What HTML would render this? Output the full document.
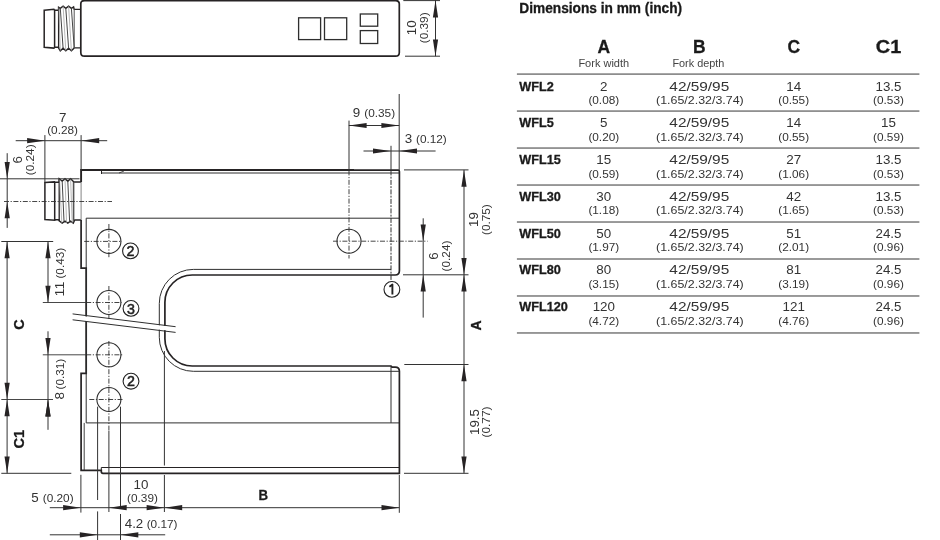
<!DOCTYPE html>
<html><head><meta charset="utf-8"><style>
html,body{margin:0;padding:0;background:#fff;width:940px;height:540px;overflow:hidden}
svg{display:block;font-family:"Liberation Sans",sans-serif;will-change:transform}
</style></head><body>
<svg width="940" height="540" viewBox="0 0 940 540">
<path d="M80.8,4 Q80.8,0.6 84.5,0.6 H395.5 Q399.3,0.6 399.3,4 V52.5 Q399.3,56.2 395.5,56.2 H84.5 Q80.8,56.2 80.8,52.5 Z" stroke="#262324" stroke-width="1.7" fill="none" />
<rect x="298.6" y="17.8" width="22.0" height="21.8" stroke="#2e2e2e" stroke-width="1.3" fill="none"/>
<rect x="324.5" y="17.8" width="22.2" height="21.8" stroke="#2e2e2e" stroke-width="1.3" fill="none"/>
<rect x="360.3" y="14" width="17.4" height="12.2" stroke="#2e2e2e" stroke-width="1.3" fill="none"/>
<rect x="360.3" y="30.6" width="17.4" height="12.9" stroke="#2e2e2e" stroke-width="1.3" fill="none"/>
<path d="M44.2,10.3 L53.9,9.3 L54.6,10.2 V47.5 L53.9,48.1 L44.2,47.2 Z" stroke="#262324" stroke-width="1.5" fill="none" />
<path d="M54.6,10.2 H58.6 M54.6,47.3 H58.6" stroke="#262324" stroke-width="1.4" fill="none" />
<path d="M58.6,10.2 V7.2 L60.3,8.3 L63.1,6.1 L65.8,8.3 L68.6,6.1 L71.4,8.3 L73.6,6.9 L74.2,9.4 H80.8" stroke="#262324" stroke-width="1.4" fill="none" />
<path d="M58.6,46.9 V48 L60.3,50.8 L63.1,48.3 L65.8,50.8 L68.6,48.3 L71.4,50.8 L74.2,47.9 H80.8" stroke="#262324" stroke-width="1.4" fill="none" />
<path d="M58.6,7.2 V48" stroke="#262324" stroke-width="1.3" fill="none" />
<path d="M74.2,9.4 V47.9" stroke="#555" stroke-width="1.0" fill="none" />
<path d="M60.3,8.3 L63.1,48.3 M65.8,8.3 L68.6,48.3 M71.4,8.3 L74.2,47.9" stroke="#444" stroke-width="1.0" fill="none" />
<path d="M63.1,6.1 L65.8,50.8 M68.6,6.1 L71.4,50.8 M58.9,7.5 L60.3,50.8" stroke="#999" stroke-width="0.7" fill="none" />
<line x1="403.3" y1="0.6" x2="440" y2="0.6" stroke="#333" stroke-width="1.0"/>
<line x1="405" y1="56.2" x2="440" y2="56.2" stroke="#333" stroke-width="1.0"/>
<line x1="435.5" y1="0" x2="435.5" y2="56.2" stroke="#333" stroke-width="1.0"/>
<polygon points="435.5,0.6 432.9,17.4 438.1,17.4" fill="#262324"/>
<polygon points="435.5,56.2 432.9,39.4 438.1,39.4" fill="#262324"/>
<text x="416.2" y="27.8" font-size="12.8" text-anchor="middle" font-weight="normal" fill="#333" transform="rotate(-90 416.2 27.8)" textLength="14.9" lengthAdjust="spacingAndGlyphs">10</text>
<text x="428.2" y="27.8" font-size="10.7" text-anchor="middle" font-weight="normal" fill="#333" transform="rotate(-90 428.2 27.8)" textLength="30.8" lengthAdjust="spacingAndGlyphs">(0.39)</text>
<path d="M81.1,182 V170 H354" stroke="#262324" stroke-width="1.9" fill="none" />
<path d="M354,170.2 H398.4 Q399.4,170.4 399.4,171.6 V270.8 Q399.4,275 395.2,275 H192.2 A27.3,27.3 0 0 0 164.9,302.3 V338.7 A27.3,27.3 0 0 0 192.2,366 H391 L392,367.1 H395.2 Q399.4,367.1 399.4,371.3 V473.3 H103 Q101.3,473.3 101.3,471.5 V470.3 H81.1 V373.3 H86.2 V268.2 H81.1 V220" stroke="#262324" stroke-width="1.7" fill="none" />
<path d="M101.3,467.5 H399.4" stroke="#262324" stroke-width="1.1" fill="none" />
<path d="M101.3,467.5 V471" stroke="#262324" stroke-width="1.0" fill="none" />
<path d="M101.5,173 H399.4" stroke="#2e2e2e" stroke-width="1.0" fill="none" />
<path d="M101.5,170.4 V174" stroke="#262324" stroke-width="1.0" fill="none" />
<path d="M119,173 L124,171" stroke="#2e2e2e" stroke-width="0.8" fill="none" />
<path d="M86.2,218.2 H399.4 M86.2,218.2 V422.9 M86.2,422.9 H399.4" stroke="#2e2e2e" stroke-width="1.0" fill="none" />
<path d="M84.2,422.9 V470.3" stroke="#2e2e2e" stroke-width="0.9" fill="none" />
<path d="M391,269.4 H193.3 A34,34 0 0 0 159.3,303.4 V337.3 A34,34 0 0 0 193.3,371.3 H399.4" stroke="#2e2e2e" stroke-width="1.0" fill="none" />
<path d="M391,366.3 V422.9" stroke="#2e2e2e" stroke-width="1.0" fill="none" />
<line x1="349" y1="120.6" x2="349" y2="170.4" stroke="#333" stroke-width="1.0"/>
<line x1="391" y1="145.8" x2="391" y2="170.4" stroke="#333" stroke-width="1.0"/>
<line x1="391" y1="170.4" x2="391" y2="281.5" stroke="#2e2e2e" stroke-width="1.0" stroke-dasharray="5 1.3 1.9 1.3"/>
<circle cx="108.9" cy="241.4" r="12" stroke="#2e2e2e" stroke-width="1.1" fill="none"/>
<circle cx="108.9" cy="302.5" r="12" stroke="#2e2e2e" stroke-width="1.1" fill="none"/>
<circle cx="108.9" cy="354.8" r="12" stroke="#2e2e2e" stroke-width="1.1" fill="none"/>
<circle cx="108.9" cy="399.5" r="12" stroke="#2e2e2e" stroke-width="1.1" fill="none"/>
<circle cx="349" cy="241.2" r="12" stroke="#2e2e2e" stroke-width="1.1" fill="none"/>
<line x1="84.2" y1="241.4" x2="122" y2="241.4" stroke="#2e2e2e" stroke-width="0.9" stroke-dasharray="5 1.6 1.2 1.6"/>
<line x1="108.9" y1="224" x2="108.9" y2="258.4" stroke="#2e2e2e" stroke-width="0.9" stroke-dasharray="5 1.6 1.2 1.6"/>
<line x1="86.2" y1="302.5" x2="121.5" y2="302.5" stroke="#2e2e2e" stroke-width="0.9" stroke-dasharray="5 1.6 1.2 1.6"/>
<line x1="108.9" y1="286" x2="108.9" y2="319.4" stroke="#2e2e2e" stroke-width="0.9" stroke-dasharray="5 1.6 1.2 1.6"/>
<line x1="86.2" y1="354.8" x2="123.5" y2="354.8" stroke="#2e2e2e" stroke-width="0.9" stroke-dasharray="5 1.6 1.2 1.6"/>
<line x1="108.9" y1="341" x2="108.9" y2="431" stroke="#2e2e2e" stroke-width="0.9" stroke-dasharray="5 1.6 1.2 1.6"/>
<line x1="89.3" y1="399.5" x2="123.5" y2="399.5" stroke="#2e2e2e" stroke-width="0.9" stroke-dasharray="5 1.6 1.2 1.6"/>
<line x1="349" y1="170.4" x2="349" y2="258.5" stroke="#2e2e2e" stroke-width="0.9" stroke-dasharray="5 1.6 1.2 1.6"/>
<circle cx="130.5" cy="250.9" r="7.9" stroke="#222" stroke-width="1.1" fill="none"/>
<text x="130.5" y="256.0" font-size="14.2" text-anchor="middle" font-weight="normal" fill="#222" stroke="#222" stroke-width="0.55">2</text>
<circle cx="131" cy="308.4" r="7.9" stroke="#222" stroke-width="1.1" fill="none"/>
<text x="131" y="313.5" font-size="14.2" text-anchor="middle" font-weight="normal" fill="#222" stroke="#222" stroke-width="0.55">3</text>
<circle cx="131" cy="381.2" r="7.9" stroke="#222" stroke-width="1.1" fill="none"/>
<text x="131" y="386.3" font-size="14.2" text-anchor="middle" font-weight="normal" fill="#222" stroke="#222" stroke-width="0.55">2</text>
<circle cx="391.9" cy="289.4" r="7.9" stroke="#222" stroke-width="1.1" fill="none"/>
<path d="M389.4,286.8 L392.4,284.6 V294.4" stroke="#222" stroke-width="1.9" fill="none" stroke-linejoin="round"/>
<polygon points="70,314.4 178,327.6 178,331.7 70,319.3" fill="#fff"/>
<path d="M72.6,313.9 L175.6,326.7 M72.6,319.8 L175.6,332.4" stroke="#2e2e2e" stroke-width="1.0" fill="none" />
<path d="M44.9,182.6 L54.4,181.9 L54.7,182.3 V220.3 L44.9,219.5 Z" stroke="#262324" stroke-width="1.5" fill="none" />
<path d="M54.7,182.3 H59.2 M54.7,219.7 H59.2" stroke="#262324" stroke-width="1.4" fill="none" />
<path d="M59.2,182.3 V178.7 L62.2,181.2 L65,178.7 L67.8,181.2 L70.6,178.7 L73.9,182 H81.1" stroke="#262324" stroke-width="1.4" fill="none" />
<path d="M59.2,219.5 V220.9 L62.2,223.1 L65,221.2 L67.8,223.1 L70.6,221.2 L73.3,223.1 L74.7,220 H81.1" stroke="#262324" stroke-width="1.4" fill="none" />
<path d="M59.2,178.7 V220.9" stroke="#262324" stroke-width="1.3" fill="none" />
<path d="M73.9,182 V220" stroke="#555" stroke-width="1.0" fill="none" />
<path d="M62.2,181.2 L64,221.2 M67.8,181.2 L69.6,221.2 M73.3,182 L73.3,221" stroke="#444" stroke-width="1.0" fill="none" />
<path d="M65,178.7 L66.6,223 M70.6,178.7 L72.2,223 M59.6,179.5 L61.8,223" stroke="#999" stroke-width="0.7" fill="none" />
<path d="M81.1,182 V220" stroke="#777" stroke-width="0.9" fill="none" />
<line x1="4" y1="201.5" x2="112" y2="201.5" stroke="#333" stroke-width="0.9" stroke-dasharray="5 1.6 1.2 1.6"/>
<line x1="15.7" y1="140.7" x2="107.2" y2="140.7" stroke="#333" stroke-width="1.0"/>
<polygon points="44.9,140.7 27.1,138.1 27.1,143.3" fill="#262324"/>
<polygon points="81.4,140.7 99.2,138.1 99.2,143.3" fill="#262324"/>
<line x1="44.9" y1="135.1" x2="44.9" y2="183" stroke="#333" stroke-width="1.0"/>
<line x1="81.1" y1="135.1" x2="81.1" y2="170.4" stroke="#333" stroke-width="1.0"/>
<text x="62.8" y="121.9" font-size="12.8" text-anchor="middle" font-weight="normal" fill="#333" textLength="7.45" lengthAdjust="spacingAndGlyphs">7</text>
<text x="62.6" y="134" font-size="10.7" text-anchor="middle" font-weight="normal" fill="#333" textLength="30.8" lengthAdjust="spacingAndGlyphs">(0.28)</text>
<line x1="7.2" y1="153.2" x2="7.2" y2="227.9" stroke="#333" stroke-width="1.0"/>
<polygon points="7.2,178.8 4.6,162.0 9.8,162.0" fill="#262324"/>
<polygon points="7.2,201.5 4.6,218.3 9.8,218.3" fill="#262324"/>
<line x1="0" y1="178.8" x2="79.5" y2="178.8" stroke="#333" stroke-width="1.0"/>
<text x="21.7" y="159.8" font-size="12.8" text-anchor="middle" font-weight="normal" fill="#333" transform="rotate(-90 21.7 159.8)" textLength="7.45" lengthAdjust="spacingAndGlyphs">6</text>
<text x="33.6" y="159.8" font-size="10.7" text-anchor="middle" font-weight="normal" fill="#333" transform="rotate(-90 33.6 159.8)" textLength="30.8" lengthAdjust="spacingAndGlyphs">(0.24)</text>
<line x1="348.8" y1="125.5" x2="399.2" y2="125.5" stroke="#333" stroke-width="1.0"/>
<polygon points="348.8,125.5 366.6,122.9 366.6,128.1" fill="#262324"/>
<polygon points="399.2,125.5 381.4,122.9 381.4,128.1" fill="#262324"/>
<line x1="399.2" y1="94" x2="399.2" y2="170.4" stroke="#333" stroke-width="1.0"/>
<text x="356.5" y="117.2" font-size="12.8" text-anchor="middle" font-weight="normal" fill="#333" textLength="7.45" lengthAdjust="spacingAndGlyphs">9</text>
<text x="364.3" y="117.2" font-size="10.7" text-anchor="start" font-weight="normal" fill="#333" textLength="30.8" lengthAdjust="spacingAndGlyphs">(0.35)</text>
<line x1="363.5" y1="151" x2="435.6" y2="151" stroke="#333" stroke-width="1.0"/>
<polygon points="390.8,151.0 373.0,148.4 373.0,153.6" fill="#262324"/>
<polygon points="399.2,151.0 417.0,148.4 417.0,153.6" fill="#262324"/>
<text x="408.4" y="143" font-size="12.8" text-anchor="middle" font-weight="normal" fill="#333" textLength="7.45" lengthAdjust="spacingAndGlyphs">3</text>
<text x="416" y="143" font-size="10.7" text-anchor="start" font-weight="normal" fill="#333" textLength="30.8" lengthAdjust="spacingAndGlyphs">(0.12)</text>
<line x1="404" y1="169.9" x2="468.5" y2="169.9" stroke="#333" stroke-width="1.0"/>
<line x1="403" y1="274.8" x2="468.5" y2="274.8" stroke="#333" stroke-width="1.0"/>
<line x1="404.3" y1="364.5" x2="468.5" y2="364.5" stroke="#333" stroke-width="1.0"/>
<line x1="404" y1="473.3" x2="468.5" y2="473.3" stroke="#333" stroke-width="1.0"/>
<line x1="464" y1="169.9" x2="464" y2="473.3" stroke="#333" stroke-width="1.0"/>
<polygon points="464.0,169.9 461.4,186.7 466.6,186.7" fill="#262324"/>
<polygon points="464.0,274.8 461.4,258.0 466.6,258.0" fill="#262324"/>
<polygon points="464.0,274.8 461.4,291.6 466.6,291.6" fill="#262324"/>
<polygon points="464.0,364.5 461.4,381.3 466.6,381.3" fill="#262324"/>
<polygon points="464.0,473.3 461.4,456.5 466.6,456.5" fill="#262324"/>
<text x="478.5" y="219.6" font-size="12.8" text-anchor="middle" font-weight="normal" fill="#333" transform="rotate(-90 478.5 219.6)" textLength="14.9" lengthAdjust="spacingAndGlyphs">19</text>
<text x="490.3" y="219.6" font-size="10.7" text-anchor="middle" font-weight="normal" fill="#333" transform="rotate(-90 490.3 219.6)" textLength="30.8" lengthAdjust="spacingAndGlyphs">(0.75)</text>
<text x="481.3" y="325.5" font-size="14.5" text-anchor="middle" font-weight="bold" fill="#1a1a1a" transform="rotate(-90 481.3 325.5)" textLength="10.2" lengthAdjust="spacingAndGlyphs" stroke="#1a1a1a" stroke-width="0.3">A</text>
<text x="478.5" y="422" font-size="12.8" text-anchor="middle" font-weight="normal" fill="#333" transform="rotate(-90 478.5 422)" textLength="25.95" lengthAdjust="spacingAndGlyphs">19.5</text>
<text x="490.3" y="422" font-size="10.7" text-anchor="middle" font-weight="normal" fill="#333" transform="rotate(-90 490.3 422)" textLength="30.8" lengthAdjust="spacingAndGlyphs">(0.77)</text>
<line x1="427.6" y1="241.2" x2="427.6" y2="241.2" stroke="#333" stroke-width="1.0"/>
<line x1="423.2" y1="218.3" x2="423.2" y2="317.6" stroke="#333" stroke-width="1.0"/>
<polygon points="423.2,241.2 420.6,224.4 425.8,224.4" fill="#262324"/>
<polygon points="423.2,274.8 420.6,291.6 425.8,291.6" fill="#262324"/>
<text x="437.6" y="256" font-size="12.8" text-anchor="middle" font-weight="normal" fill="#333" transform="rotate(-90 437.6 256)" textLength="7.45" lengthAdjust="spacingAndGlyphs">6</text>
<text x="450" y="256" font-size="10.7" text-anchor="middle" font-weight="normal" fill="#333" transform="rotate(-90 450 256)" textLength="30.8" lengthAdjust="spacingAndGlyphs">(0.24)</text>
<line x1="333" y1="241.2" x2="427.6" y2="241.2" stroke="#333" stroke-width="0.9" stroke-dasharray="5 1.6 1.2 1.6"/>
<line x1="1.3" y1="241.5" x2="53.2" y2="241.5" stroke="#333" stroke-width="1.0"/>
<line x1="42.8" y1="302.5" x2="86.2" y2="302.5" stroke="#333" stroke-width="0.9"/>
<line x1="42.8" y1="354.8" x2="86.2" y2="354.8" stroke="#333" stroke-width="0.9"/>
<line x1="1.3" y1="399.5" x2="53" y2="399.5" stroke="#333" stroke-width="0.9"/>
<line x1="1.3" y1="473.3" x2="71.3" y2="473.3" stroke="#333" stroke-width="1.0"/>
<line x1="7.1" y1="241.5" x2="7.1" y2="473.3" stroke="#333" stroke-width="1.0"/>
<polygon points="7.1,241.5 4.5,258.3 9.7,258.3" fill="#262324"/>
<polygon points="7.1,399.5 4.5,382.7 9.7,382.7" fill="#262324"/>
<polygon points="7.1,399.5 4.5,416.3 9.7,416.3" fill="#262324"/>
<polygon points="7.1,473.3 4.5,456.5 9.7,456.5" fill="#262324"/>
<text x="24.0" y="324.5" font-size="15" text-anchor="middle" font-weight="bold" fill="#1a1a1a" transform="rotate(-90 24.0 324.5)" textLength="10.4" lengthAdjust="spacingAndGlyphs" stroke="#1a1a1a" stroke-width="0.3">C</text>
<text x="23.8" y="439.3" font-size="14.8" text-anchor="middle" font-weight="bold" fill="#1a1a1a" transform="rotate(-90 23.8 439.3)" textLength="18.6" lengthAdjust="spacingAndGlyphs" stroke="#1a1a1a" stroke-width="0.3">C1</text>
<line x1="48" y1="241.5" x2="48" y2="302.5" stroke="#333" stroke-width="1.0"/>
<polygon points="48.0,241.5 45.4,258.3 50.6,258.3" fill="#262324"/>
<polygon points="48.0,302.5 45.4,285.7 50.6,285.7" fill="#262324"/>
<text x="63.8" y="296.5" font-size="12.3" text-anchor="start" font-weight="normal" fill="#333" transform="rotate(-90 63.8 296.5)" textLength="14.9" lengthAdjust="spacingAndGlyphs">11</text>
<text x="63.8" y="278.6" font-size="10.3" text-anchor="start" font-weight="normal" fill="#333" transform="rotate(-90 63.8 278.6)" textLength="30.8" lengthAdjust="spacingAndGlyphs">(0.43)</text>
<line x1="48" y1="331.3" x2="48" y2="429.8" stroke="#333" stroke-width="1.0"/>
<polygon points="48.0,354.8 45.4,338.0 50.6,338.0" fill="#262324"/>
<polygon points="48.0,399.6 45.4,416.4 50.6,416.4" fill="#262324"/>
<text x="63.8" y="399.5" font-size="12.3" text-anchor="start" font-weight="normal" fill="#333" transform="rotate(-90 63.8 399.5)" textLength="7.45" lengthAdjust="spacingAndGlyphs">8</text>
<text x="63.8" y="389.5" font-size="10.3" text-anchor="start" font-weight="normal" fill="#333" transform="rotate(-90 63.8 389.5)" textLength="30.8" lengthAdjust="spacingAndGlyphs">(0.31)</text>
<polygon points="48.0,399.6 45.4,416.4 50.6,416.4" fill="#262324"/>
<line x1="80.9" y1="474.8" x2="80.9" y2="512.6" stroke="#333" stroke-width="1.0"/>
<line x1="108.9" y1="431" x2="108.9" y2="512" stroke="#333" stroke-width="1.0"/>
<line x1="164.4" y1="351" x2="164.4" y2="465.5" stroke="#333" stroke-width="1.0"/>
<line x1="164.4" y1="475" x2="164.4" y2="512" stroke="#333" stroke-width="1.0"/>
<line x1="399.3" y1="475" x2="399.3" y2="512.8" stroke="#333" stroke-width="1.0"/>
<line x1="97.6" y1="406.7" x2="97.6" y2="500" stroke="#333" stroke-width="1.0"/>
<line x1="97.6" y1="511.4" x2="97.6" y2="540" stroke="#333" stroke-width="1.0"/>
<line x1="120.5" y1="406.7" x2="120.5" y2="507.7" stroke="#333" stroke-width="1.0"/>
<line x1="120.5" y1="514" x2="120.5" y2="540" stroke="#333" stroke-width="1.0"/>
<line x1="49.8" y1="507.7" x2="399.3" y2="507.7" stroke="#333" stroke-width="1.0"/>
<polygon points="80.9,507.7 63.1,505.1 63.1,510.3" fill="#262324"/>
<polygon points="108.9,507.7 126.7,505.1 126.7,510.3" fill="#262324"/>
<polygon points="164.4,507.7 146.6,505.1 146.6,510.3" fill="#262324"/>
<polygon points="164.4,507.7 182.2,505.1 182.2,510.3" fill="#262324"/>
<polygon points="399.3,507.7 381.5,505.1 381.5,510.3" fill="#262324"/>
<text x="35" y="501.5" font-size="12.8" text-anchor="middle" font-weight="normal" fill="#333" textLength="7.45" lengthAdjust="spacingAndGlyphs">5</text>
<text x="42.8" y="501.5" font-size="10.7" text-anchor="start" font-weight="normal" fill="#333" textLength="30.8" lengthAdjust="spacingAndGlyphs">(0.20)</text>
<text x="141" y="489.3" font-size="12.8" text-anchor="middle" font-weight="normal" fill="#333" textLength="14.9" lengthAdjust="spacingAndGlyphs">10</text>
<text x="142.5" y="501.5" font-size="10.7" text-anchor="middle" font-weight="normal" fill="#333" textLength="30.8" lengthAdjust="spacingAndGlyphs">(0.39)</text>
<text x="263.2" y="500.2" font-size="14.5" text-anchor="middle" font-weight="bold" fill="#1a1a1a" textLength="9.6" lengthAdjust="spacingAndGlyphs" stroke="#1a1a1a" stroke-width="0.3">B</text>
<line x1="49.8" y1="534.8" x2="165.2" y2="534.8" stroke="#333" stroke-width="1.0"/>
<polygon points="97.6,534.8 79.8,532.2 79.8,537.4" fill="#262324"/>
<polygon points="120.5,534.8 138.3,532.2 138.3,537.4" fill="#262324"/>
<text x="134" y="528" font-size="12.8" text-anchor="middle" font-weight="normal" fill="#333" textLength="18.5" lengthAdjust="spacingAndGlyphs">4.2</text>
<text x="146.7" y="528" font-size="10.7" text-anchor="start" font-weight="normal" fill="#333" textLength="30.8" lengthAdjust="spacingAndGlyphs">(0.17)</text>
<text x="519.3" y="13.1" font-size="13.8" text-anchor="start" font-weight="bold" fill="#1a1a1a" textLength="162.8" lengthAdjust="spacingAndGlyphs" stroke="#1a1a1a" stroke-width="0.3">Dimensions in mm (inch)</text>
<text x="603.8" y="53.4" font-size="18.5" text-anchor="middle" font-weight="bold" fill="#1a1a1a" textLength="12.6" lengthAdjust="spacingAndGlyphs" stroke="#1a1a1a" stroke-width="0.3">A</text>
<text x="699.3" y="53.4" font-size="18.5" text-anchor="middle" font-weight="bold" fill="#1a1a1a" textLength="12.6" lengthAdjust="spacingAndGlyphs" stroke="#1a1a1a" stroke-width="0.3">B</text>
<text x="793.7" y="53.4" font-size="18.5" text-anchor="middle" font-weight="bold" fill="#1a1a1a" textLength="12.6" lengthAdjust="spacingAndGlyphs" stroke="#1a1a1a" stroke-width="0.3">C</text>
<text x="888.5" y="53.4" font-size="18.5" text-anchor="middle" font-weight="bold" fill="#1a1a1a" textLength="25.4" lengthAdjust="spacingAndGlyphs" stroke="#1a1a1a" stroke-width="0.3">C1</text>
<text x="603.8" y="67.4" font-size="10.5" text-anchor="middle" font-weight="normal" fill="#444" textLength="50.8" lengthAdjust="spacingAndGlyphs">Fork width</text>
<text x="698.4" y="67.4" font-size="10.5" text-anchor="middle" font-weight="normal" fill="#444" textLength="52" lengthAdjust="spacingAndGlyphs">Fork depth</text>
<rect x="516.9" y="73.35" width="402.5" height="1.5" fill="#7a7a7a"/>
<text x="519.3" y="90.7" font-size="12.2" text-anchor="start" font-weight="bold" fill="#1a1a1a" textLength="34.53" lengthAdjust="spacingAndGlyphs" stroke="#1a1a1a" stroke-width="0.3">WFL2</text>
<text x="603.8" y="90.7" font-size="12.8" text-anchor="middle" font-weight="normal" fill="#333" textLength="7.45" lengthAdjust="spacingAndGlyphs">2</text>
<text x="603.8" y="103.9" font-size="10.7" text-anchor="middle" font-weight="normal" fill="#333" textLength="30.8" lengthAdjust="spacingAndGlyphs">(0.08)</text>
<text x="699.3" y="90.7" font-size="12.8" text-anchor="middle" font-weight="normal" fill="#333" textLength="59.9" lengthAdjust="spacingAndGlyphs">42/59/95</text>
<text x="699.9" y="103.9" font-size="10.7" text-anchor="middle" font-weight="normal" fill="#333" textLength="87.6" lengthAdjust="spacingAndGlyphs">(1.65/2.32/3.74)</text>
<text x="793.7" y="90.7" font-size="12.8" text-anchor="middle" font-weight="normal" fill="#333" textLength="14.9" lengthAdjust="spacingAndGlyphs">14</text>
<text x="793.7" y="103.9" font-size="10.7" text-anchor="middle" font-weight="normal" fill="#333" textLength="30.8" lengthAdjust="spacingAndGlyphs">(0.55)</text>
<text x="888.5" y="90.7" font-size="12.8" text-anchor="middle" font-weight="normal" fill="#333" textLength="25.95" lengthAdjust="spacingAndGlyphs">13.5</text>
<text x="888.5" y="103.9" font-size="10.7" text-anchor="middle" font-weight="normal" fill="#333" textLength="30.8" lengthAdjust="spacingAndGlyphs">(0.53)</text>
<rect x="516.9" y="110.33" width="402.5" height="1.5" fill="#7a7a7a"/>
<text x="519.3" y="127.45" font-size="12.2" text-anchor="start" font-weight="bold" fill="#1a1a1a" textLength="34.53" lengthAdjust="spacingAndGlyphs" stroke="#1a1a1a" stroke-width="0.3">WFL5</text>
<text x="603.8" y="127.45" font-size="12.8" text-anchor="middle" font-weight="normal" fill="#333" textLength="7.45" lengthAdjust="spacingAndGlyphs">5</text>
<text x="603.8" y="140.75" font-size="10.7" text-anchor="middle" font-weight="normal" fill="#333" textLength="30.8" lengthAdjust="spacingAndGlyphs">(0.20)</text>
<text x="699.3" y="127.45" font-size="12.8" text-anchor="middle" font-weight="normal" fill="#333" textLength="59.9" lengthAdjust="spacingAndGlyphs">42/59/95</text>
<text x="699.9" y="140.75" font-size="10.7" text-anchor="middle" font-weight="normal" fill="#333" textLength="87.6" lengthAdjust="spacingAndGlyphs">(1.65/2.32/3.74)</text>
<text x="793.7" y="127.45" font-size="12.8" text-anchor="middle" font-weight="normal" fill="#333" textLength="14.9" lengthAdjust="spacingAndGlyphs">14</text>
<text x="793.7" y="140.75" font-size="10.7" text-anchor="middle" font-weight="normal" fill="#333" textLength="30.8" lengthAdjust="spacingAndGlyphs">(0.55)</text>
<text x="888.5" y="127.45" font-size="12.8" text-anchor="middle" font-weight="normal" fill="#333" textLength="14.9" lengthAdjust="spacingAndGlyphs">15</text>
<text x="888.5" y="140.75" font-size="10.7" text-anchor="middle" font-weight="normal" fill="#333" textLength="30.8" lengthAdjust="spacingAndGlyphs">(0.59)</text>
<rect x="516.9" y="147.31" width="402.5" height="1.5" fill="#7a7a7a"/>
<text x="519.3" y="164.2" font-size="12.2" text-anchor="start" font-weight="bold" fill="#1a1a1a" textLength="41.59" lengthAdjust="spacingAndGlyphs" stroke="#1a1a1a" stroke-width="0.3">WFL15</text>
<text x="603.8" y="164.2" font-size="12.8" text-anchor="middle" font-weight="normal" fill="#333" textLength="14.9" lengthAdjust="spacingAndGlyphs">15</text>
<text x="603.8" y="177.60000000000002" font-size="10.7" text-anchor="middle" font-weight="normal" fill="#333" textLength="30.8" lengthAdjust="spacingAndGlyphs">(0.59)</text>
<text x="699.3" y="164.2" font-size="12.8" text-anchor="middle" font-weight="normal" fill="#333" textLength="59.9" lengthAdjust="spacingAndGlyphs">42/59/95</text>
<text x="699.9" y="177.60000000000002" font-size="10.7" text-anchor="middle" font-weight="normal" fill="#333" textLength="87.6" lengthAdjust="spacingAndGlyphs">(1.65/2.32/3.74)</text>
<text x="793.7" y="164.2" font-size="12.8" text-anchor="middle" font-weight="normal" fill="#333" textLength="14.9" lengthAdjust="spacingAndGlyphs">27</text>
<text x="793.7" y="177.60000000000002" font-size="10.7" text-anchor="middle" font-weight="normal" fill="#333" textLength="30.8" lengthAdjust="spacingAndGlyphs">(1.06)</text>
<text x="888.5" y="164.2" font-size="12.8" text-anchor="middle" font-weight="normal" fill="#333" textLength="25.95" lengthAdjust="spacingAndGlyphs">13.5</text>
<text x="888.5" y="177.60000000000002" font-size="10.7" text-anchor="middle" font-weight="normal" fill="#333" textLength="30.8" lengthAdjust="spacingAndGlyphs">(0.53)</text>
<rect x="516.9" y="184.29" width="402.5" height="1.5" fill="#7a7a7a"/>
<text x="519.3" y="200.95" font-size="12.2" text-anchor="start" font-weight="bold" fill="#1a1a1a" textLength="41.59" lengthAdjust="spacingAndGlyphs" stroke="#1a1a1a" stroke-width="0.3">WFL30</text>
<text x="603.8" y="200.95" font-size="12.8" text-anchor="middle" font-weight="normal" fill="#333" textLength="14.9" lengthAdjust="spacingAndGlyphs">30</text>
<text x="603.8" y="214.45000000000002" font-size="10.7" text-anchor="middle" font-weight="normal" fill="#333" textLength="30.8" lengthAdjust="spacingAndGlyphs">(1.18)</text>
<text x="699.3" y="200.95" font-size="12.8" text-anchor="middle" font-weight="normal" fill="#333" textLength="59.9" lengthAdjust="spacingAndGlyphs">42/59/95</text>
<text x="699.9" y="214.45000000000002" font-size="10.7" text-anchor="middle" font-weight="normal" fill="#333" textLength="87.6" lengthAdjust="spacingAndGlyphs">(1.65/2.32/3.74)</text>
<text x="793.7" y="200.95" font-size="12.8" text-anchor="middle" font-weight="normal" fill="#333" textLength="14.9" lengthAdjust="spacingAndGlyphs">42</text>
<text x="793.7" y="214.45000000000002" font-size="10.7" text-anchor="middle" font-weight="normal" fill="#333" textLength="30.8" lengthAdjust="spacingAndGlyphs">(1.65)</text>
<text x="888.5" y="200.95" font-size="12.8" text-anchor="middle" font-weight="normal" fill="#333" textLength="25.95" lengthAdjust="spacingAndGlyphs">13.5</text>
<text x="888.5" y="214.45000000000002" font-size="10.7" text-anchor="middle" font-weight="normal" fill="#333" textLength="30.8" lengthAdjust="spacingAndGlyphs">(0.53)</text>
<rect x="516.9" y="221.27" width="402.5" height="1.5" fill="#7a7a7a"/>
<text x="519.3" y="237.7" font-size="12.2" text-anchor="start" font-weight="bold" fill="#1a1a1a" textLength="41.59" lengthAdjust="spacingAndGlyphs" stroke="#1a1a1a" stroke-width="0.3">WFL50</text>
<text x="603.8" y="237.7" font-size="12.8" text-anchor="middle" font-weight="normal" fill="#333" textLength="14.9" lengthAdjust="spacingAndGlyphs">50</text>
<text x="603.8" y="251.3" font-size="10.7" text-anchor="middle" font-weight="normal" fill="#333" textLength="30.8" lengthAdjust="spacingAndGlyphs">(1.97)</text>
<text x="699.3" y="237.7" font-size="12.8" text-anchor="middle" font-weight="normal" fill="#333" textLength="59.9" lengthAdjust="spacingAndGlyphs">42/59/95</text>
<text x="699.9" y="251.3" font-size="10.7" text-anchor="middle" font-weight="normal" fill="#333" textLength="87.6" lengthAdjust="spacingAndGlyphs">(1.65/2.32/3.74)</text>
<text x="793.7" y="237.7" font-size="12.8" text-anchor="middle" font-weight="normal" fill="#333" textLength="14.9" lengthAdjust="spacingAndGlyphs">51</text>
<text x="793.7" y="251.3" font-size="10.7" text-anchor="middle" font-weight="normal" fill="#333" textLength="30.8" lengthAdjust="spacingAndGlyphs">(2.01)</text>
<text x="888.5" y="237.7" font-size="12.8" text-anchor="middle" font-weight="normal" fill="#333" textLength="25.95" lengthAdjust="spacingAndGlyphs">24.5</text>
<text x="888.5" y="251.3" font-size="10.7" text-anchor="middle" font-weight="normal" fill="#333" textLength="30.8" lengthAdjust="spacingAndGlyphs">(0.96)</text>
<rect x="516.9" y="258.25" width="402.5" height="1.5" fill="#7a7a7a"/>
<text x="519.3" y="274.45" font-size="12.2" text-anchor="start" font-weight="bold" fill="#1a1a1a" textLength="41.59" lengthAdjust="spacingAndGlyphs" stroke="#1a1a1a" stroke-width="0.3">WFL80</text>
<text x="603.8" y="274.45" font-size="12.8" text-anchor="middle" font-weight="normal" fill="#333" textLength="14.9" lengthAdjust="spacingAndGlyphs">80</text>
<text x="603.8" y="288.15" font-size="10.7" text-anchor="middle" font-weight="normal" fill="#333" textLength="30.8" lengthAdjust="spacingAndGlyphs">(3.15)</text>
<text x="699.3" y="274.45" font-size="12.8" text-anchor="middle" font-weight="normal" fill="#333" textLength="59.9" lengthAdjust="spacingAndGlyphs">42/59/95</text>
<text x="699.9" y="288.15" font-size="10.7" text-anchor="middle" font-weight="normal" fill="#333" textLength="87.6" lengthAdjust="spacingAndGlyphs">(1.65/2.32/3.74)</text>
<text x="793.7" y="274.45" font-size="12.8" text-anchor="middle" font-weight="normal" fill="#333" textLength="14.9" lengthAdjust="spacingAndGlyphs">81</text>
<text x="793.7" y="288.15" font-size="10.7" text-anchor="middle" font-weight="normal" fill="#333" textLength="30.8" lengthAdjust="spacingAndGlyphs">(3.19)</text>
<text x="888.5" y="274.45" font-size="12.8" text-anchor="middle" font-weight="normal" fill="#333" textLength="25.95" lengthAdjust="spacingAndGlyphs">24.5</text>
<text x="888.5" y="288.15" font-size="10.7" text-anchor="middle" font-weight="normal" fill="#333" textLength="30.8" lengthAdjust="spacingAndGlyphs">(0.96)</text>
<rect x="516.9" y="295.23" width="402.5" height="1.5" fill="#7a7a7a"/>
<text x="519.3" y="311.2" font-size="12.2" text-anchor="start" font-weight="bold" fill="#1a1a1a" textLength="48.64" lengthAdjust="spacingAndGlyphs" stroke="#1a1a1a" stroke-width="0.3">WFL120</text>
<text x="603.8" y="311.2" font-size="12.8" text-anchor="middle" font-weight="normal" fill="#333" textLength="22.35" lengthAdjust="spacingAndGlyphs">120</text>
<text x="603.8" y="325.0" font-size="10.7" text-anchor="middle" font-weight="normal" fill="#333" textLength="30.8" lengthAdjust="spacingAndGlyphs">(4.72)</text>
<text x="699.3" y="311.2" font-size="12.8" text-anchor="middle" font-weight="normal" fill="#333" textLength="59.9" lengthAdjust="spacingAndGlyphs">42/59/95</text>
<text x="699.9" y="325.0" font-size="10.7" text-anchor="middle" font-weight="normal" fill="#333" textLength="87.6" lengthAdjust="spacingAndGlyphs">(1.65/2.32/3.74)</text>
<text x="793.7" y="311.2" font-size="12.8" text-anchor="middle" font-weight="normal" fill="#333" textLength="22.35" lengthAdjust="spacingAndGlyphs">121</text>
<text x="793.7" y="325.0" font-size="10.7" text-anchor="middle" font-weight="normal" fill="#333" textLength="30.8" lengthAdjust="spacingAndGlyphs">(4.76)</text>
<text x="888.5" y="311.2" font-size="12.8" text-anchor="middle" font-weight="normal" fill="#333" textLength="25.95" lengthAdjust="spacingAndGlyphs">24.5</text>
<text x="888.5" y="325.0" font-size="10.7" text-anchor="middle" font-weight="normal" fill="#333" textLength="30.8" lengthAdjust="spacingAndGlyphs">(0.96)</text>
<rect x="516.9" y="332.21" width="402.5" height="1.5" fill="#7a7a7a"/>
</svg></body></html>
